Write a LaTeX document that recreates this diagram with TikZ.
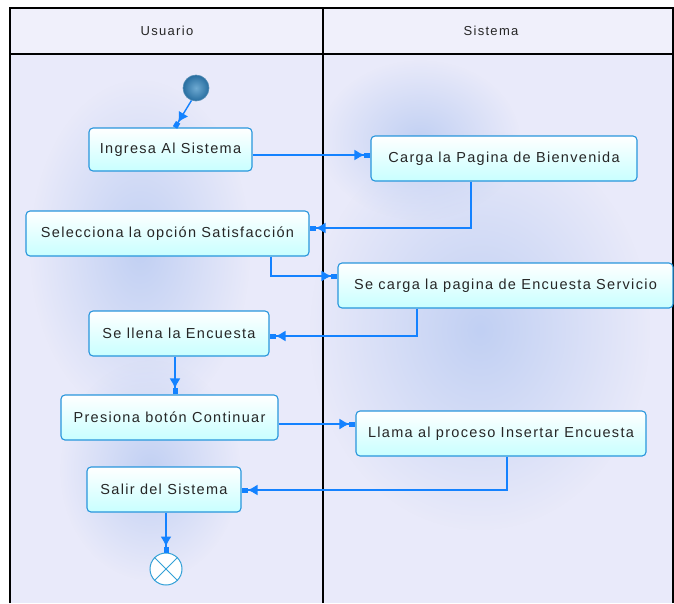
\documentclass[tikz,border=0pt]{standalone}
\usepackage{fontspec}
\newfontfamily\diafont{Liberation Sans}[LetterSpace=9]
\newfontfamily\headfont{Liberation Sans}[LetterSpace=10]
\usetikzlibrary{arrows.meta,fadings,calc}
\tikzfading[name=softblob, inner color=transparent!0, outer color=transparent!100]
\definecolor{lanebg}{RGB}{233,234,250}
\definecolor{blob}{RGB}{193,208,243}
\definecolor{flowc}{RGB}{20,130,255}
\definecolor{boxborder}{RGB}{40,150,220}
\definecolor{boxlow}{RGB}{200,255,255}
\definecolor{startdark}{RGB}{40,110,160}
\definecolor{startlight}{RGB}{110,170,210}
\definecolor{endc}{RGB}{50,160,215}
\tikzset{
  actbox/.style={draw=boxborder, line width=1.1pt, rounded corners=4pt,
    top color=white, bottom color=boxlow, inner sep=0pt,
    font=\diafont\fontsize{14.5}{16}\selectfont, text=black!85},
  flow/.style={draw=flowc, line width=1.4pt,
    -{Latex[length=10pt,width=11pt]Rectangle[length=6pt,width=5pt]}},
  lanetitle/.style={font=\headfont\fontsize{13}{15}\selectfont, text=black!85},
}
\begin{document}
\begin{tikzpicture}[x=1pt,y=-1pt]
\useasboundingbox (0,0) rectangle (674,603);
% backgrounds
\fill[lanebg] (10,8) rectangle (673,603);
\fill[blob, path fading=softblob] (140,250) ellipse (110 and 170);
\fill[blob, path fading=softblob] (150,470) ellipse (90 and 110);
\fill[blob, path fading=softblob] (480,330) ellipse (170 and 200);
\fill[blob, path fading=softblob] (420,140) ellipse (100 and 80);
\fill[lanebg!70!white] (10,8) rectangle (673,54);
% frame
\draw[black, line width=1.3pt] (10,603) -- (10,8) -- (673,8) -- (673,603);
\draw[black, line width=1.3pt] (10,54) -- (673,54);
\draw[black, line width=2.2pt] (323,8) -- (323,603);
\node[lanetitle] (t1) at (167,31) {Usuario};
\node[lanetitle] (t2) at (491,31) {Sistema};
% nodes
\node[circle, minimum size=26pt, inner sep=0pt, draw=startdark!80, line width=0.6pt,
  inner color=startlight, outer color=startdark] (start) at (196,88) {};
\node[actbox, minimum width=163pt, minimum height=43pt] (n1) at (170.5,149.5) {Ingresa Al Sistema};
\node[actbox, minimum width=266pt, minimum height=45pt] (n2) at (504,158.5) {Carga la Pagina de Bienvenida};
\node[actbox, minimum width=283pt, minimum height=45pt] (n3) at (167.5,233.5) {Selecciona la opción Satisfacción};
\node[actbox, minimum width=335pt, minimum height=45pt] (n4) at (505.5,285.5) {Se carga la pagina de Encuesta Servicio};
\node[actbox, minimum width=180pt, minimum height=45pt] (n5) at (179,333.5) {Se llena la Encuesta};
\node[actbox, minimum width=217pt, minimum height=45pt] (n6) at (169.5,417.5) {Presiona botón Continuar};
\node[actbox, minimum width=290pt, minimum height=45pt] (n7) at (501,433.5) {Llama al proceso Insertar Encuesta};
\node[actbox, minimum width=154pt, minimum height=45pt] (n8) at (164,489.5) {Salir del Sistema};
\node[circle, draw=endc, fill=white, line width=1pt, minimum size=32pt, inner sep=0pt] (end) at (166,569) {};
\draw[endc, line width=1pt] (end.45) -- (end.225) (end.135) -- (end.315);
% connectors
\draw[flow] (start.250) -- ([xshift=4.5pt]n1.north);
\draw[flow] ([yshift=-5.5pt]n1.east) -- ([yshift=-5.5pt]n1.east -| n2.west);
\draw[flow] ([xshift=-33pt]n2.south) |- ([yshift=5.5pt]n3.east);
\draw[flow] ([xshift=103.5pt]n3.south) |- ([yshift=9.5pt]n4.west);
\draw[flow] ([xshift=-88.5pt]n4.south) |- ([yshift=-2.5pt]n5.east);
\draw[flow] ([xshift=-4pt]n5.south) -- ([xshift=-4pt]n5.south |- n6.north);
\draw[flow] ([yshift=-6.5pt]n6.east) -- ([yshift=-6.5pt]n6.east -| n7.west);
\draw[flow] ([xshift=6pt]n7.south) |- ([yshift=-0.5pt]n8.east);
\draw[flow] (n8.south -| end.north) -- (end.north);
\end{tikzpicture}
\end{document}
